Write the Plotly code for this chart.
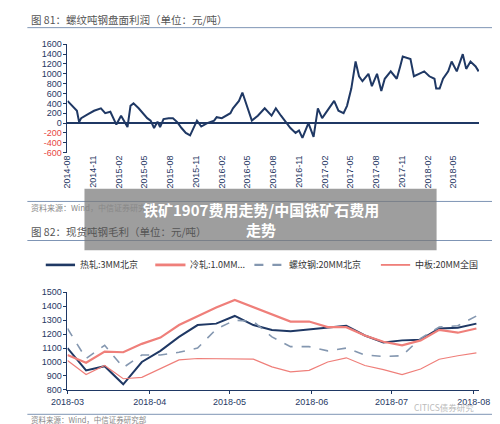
import plotly.graph_objects as go
import pandas as pd

# ---- top chart data: month offset from 2014-08-01, profit (元/吨)
top_month = [0,1.1,1.36,1.6,2.4,3.1,3.9,4.4,5.0,5.7,6.25,7.0,7.35,7.7,8.3,8.8,9.3,9.7,10.1,10.5,10.8,11.2,11.8,12.3,12.8,13.3,13.8,14.3,14.7,15.1,15.6,16.3,17.1,17.4,18.0,18.5,19.0,19.3,20.0,20.4,21.0,21.5,22.2,23.0,23.8,24.3,24.9,25.5,26.0,26.6,27.0,27.4,28.1,28.7,29.2,29.7,30.3,31.1,31.6,32.2,32.6,33.1,33.6,34.0,34.4,35.1,35.5,36.1,36.6,37.0,37.7,38.4,38.8,39.1,40.0,40.4,41.0,41.6,42.2,42.8,43.0,43.4,43.8,44.4,44.8,45.4,46.1,46.5,47.0,47.6,47.95]
top_vals = [450,250,20,100,180,250,300,200,230,-30,150,-80,350,400,300,200,100,50,-100,30,-80,80,100,100,20,-100,-200,-250,-80,50,-70,0,50,120,100,150,200,300,450,620,300,50,150,300,150,300,150,0,-100,-200,-150,-300,0,-280,300,100,250,450,250,200,350,700,1250,950,850,1000,750,1000,650,900,1050,900,1150,1350,1300,950,1000,1050,950,900,700,700,900,1050,1250,1050,1400,1100,1250,1150,1050]
top_ticks = ["2014-08","2014-11","2015-02","2015-05","2015-08","2015-11","2016-02","2016-05","2016-08","2016-11","2017-02","2017-05","2017-08","2017-11","2018-02","2018-05"]
top_yticks = [-600,-400,-200,0,200,400,600,800,1000,1200,1400,1600]

# ---- bottom chart data (weekly from 2018-03-01)
bot_start = "2018-03-01"
hot_rolled = [1100,940,970,840,1000,1080,1180,1265,1275,1330,1265,1230,1220,1235,1250,1260,1190,1140,1155,1160,1240,1245,1275]
cold_rolled = [1050,995,1075,1070,1130,1175,1265,1330,1390,1445,1395,1345,1290,1290,1250,1250,1190,1145,1120,1155,1230,1210,1240]
rebar = [1240,1025,1120,960,1050,1050,1070,1100,1235,1300,1290,1180,1110,1110,1080,1100,1050,1040,1045,1170,1250,1260,1330]
plate = [1010,910,975,880,890,955,1015,1025,1025,1020,1020,965,930,940,1000,1030,975,945,910,950,1020,1045,1065]
bot_names = ["热轧:3MM北京","冷轧:1.0MM...","螺纹钢:20MM北京","中板:20MM全国"]
bot_ticks = ["2018-03","2018-04","2018-05","2018-06","2018-07","2018-08"]

NAVY = "#1f3864"; SALMON = "#ef7f7a"; GREY = "#8497b0"
base = pd.Timestamp("2014-08-01")
top_x = [base + pd.Timedelta(days=m * 30.44) for m in top_month]
bot_x = pd.date_range(bot_start, periods=len(hot_rolled), freq="7D")

fig = go.Figure()
fig.add_trace(go.Scatter(x=top_x, y=top_vals, mode="lines", line=dict(color=NAVY, width=2),
                         showlegend=False, xaxis="x", yaxis="y"))
styles = [dict(color=NAVY, width=2), dict(color=SALMON, width=2.2),
          dict(color=GREY, width=1.6, dash="dash"), dict(color=SALMON, width=1.2)]
for name, vals, st in zip(bot_names, [hot_rolled, cold_rolled, rebar, plate], styles):
    fig.add_trace(go.Scatter(x=bot_x, y=vals, mode="lines", name=name, line=st, showlegend=False,
                             xaxis="x2", yaxis="y2"))

tickfont = dict(family="Liberation Sans", size=9, color=NAVY)
ytext = [f'<span style="color:#e8473f">{v}</span>' if v < 0 else str(v) for v in top_yticks]
fig.update_layout(
    width=500, height=424, margin=dict(l=0, r=0, t=0, b=0),
    paper_bgcolor="white", plot_bgcolor="white", showlegend=False,
    xaxis=dict(domain=[0.09, 0.962], range=[base, base + pd.Timedelta(days=48 * 30.44)],
               tickvals=[pd.Timestamp(t + "-01") for t in top_ticks], ticktext=top_ticks,
               tickangle=-90, tickfont=tickfont, showgrid=False, anchor="y",
               showline=False, ticks=""),
    yaxis=dict(domain=[0.6627, 0.9245], range=[-600, 1600], tickvals=top_yticks, ticktext=ytext,
               tickfont=tickfont, showgrid=False, showline=True, linecolor=NAVY, ticks="outside",
               ticklen=3, tickcolor=NAVY, zeroline=True, zerolinecolor=NAVY, zerolinewidth=1.5),
    xaxis2=dict(domain=[0.09, 0.962], range=[pd.Timestamp("2018-03-01"), pd.Timestamp("2018-08-03")],
                tickvals=[pd.Timestamp(t + "-01") for t in bot_ticks], ticktext=bot_ticks,
                tickfont=tickfont, showgrid=False, anchor="y2", showline=True, linecolor=NAVY,
                ticks="outside", ticklen=3, tickcolor=NAVY),
    yaxis2=dict(domain=[0.0896, 0.3255], range=[800, 1500], dtick=100, tickfont=tickfont,
                showgrid=False, showline=True, linecolor=NAVY, ticks="outside", ticklen=3,
                tickcolor=NAVY, anchor="x2"),
)

def txt(x, y, s, size=10, color="#555", anchor="left"):
    fig.add_annotation(x=x / 500, y=1 - y / 424, xref="paper", yref="paper", text=s, showarrow=False,
                       xanchor=anchor, yanchor="middle",
                       font=dict(family="Noto Sans CJK SC", size=size, color=color))

def hline(y):
    fig.add_shape(type="line", xref="paper", yref="paper", x0=0.005, x1=0.995, y0=1 - y / 424, y1=1 - y / 424,
                  line=dict(color="#7f95b5", width=1))

# manual legend
leg_pos = [(22, 53, 56), (138, 170, 173), (243, 273, 278), (377, 408, 411)]
for (x0, x1, xt), name, st in zip(leg_pos, bot_names, styles):
    fig.add_shape(type="line", xref="paper", yref="paper", x0=x0 / 500, x1=x1 / 500,
                  y0=1 - 258 / 424, y1=1 - 258 / 424, line=dict(color=st["color"], width=st["width"] + 0.6,
                                                                 dash=st.get("dash", "solid")))
    txt(xt, 258, name, 9, "#333")

txt(4, 7, "图 81：螺纹吨钢盘面利润（单位：元/吨）", 10.5)
hline(15)
txt(4, 199, "资料来源：Wind，中信证券研究部", 8, "#888")
hline(193)
txt(4, 224, "图 82：现货吨钢毛利（单位：元/吨）", 10.5)
hline(233)
txt(478, 404, "CITICS债券研究", 8.5, "#bbb", "right")
hline(411)
txt(4, 416, "资料来源：Wind，中信证券研究部", 7.5, "#888")

fig.add_shape(type="rect", xref="paper", yref="paper", x0=63 / 500, x1=436 / 500,
              y0=1 - 243 / 424, y1=1 - 180 / 424, fillcolor="rgba(120,120,120,0.72)", line=dict(width=0))
fig.add_annotation(x=250 / 500, y=1 - 211 / 424, xref="paper", yref="paper", showarrow=False,
                   text="<b>铁矿1907费用走势/中国铁矿石费用<br>走势</b>", align="center",
                   font=dict(family="Noto Sans CJK SC", size=15, color="white"))

fig.write_html("out.html")
